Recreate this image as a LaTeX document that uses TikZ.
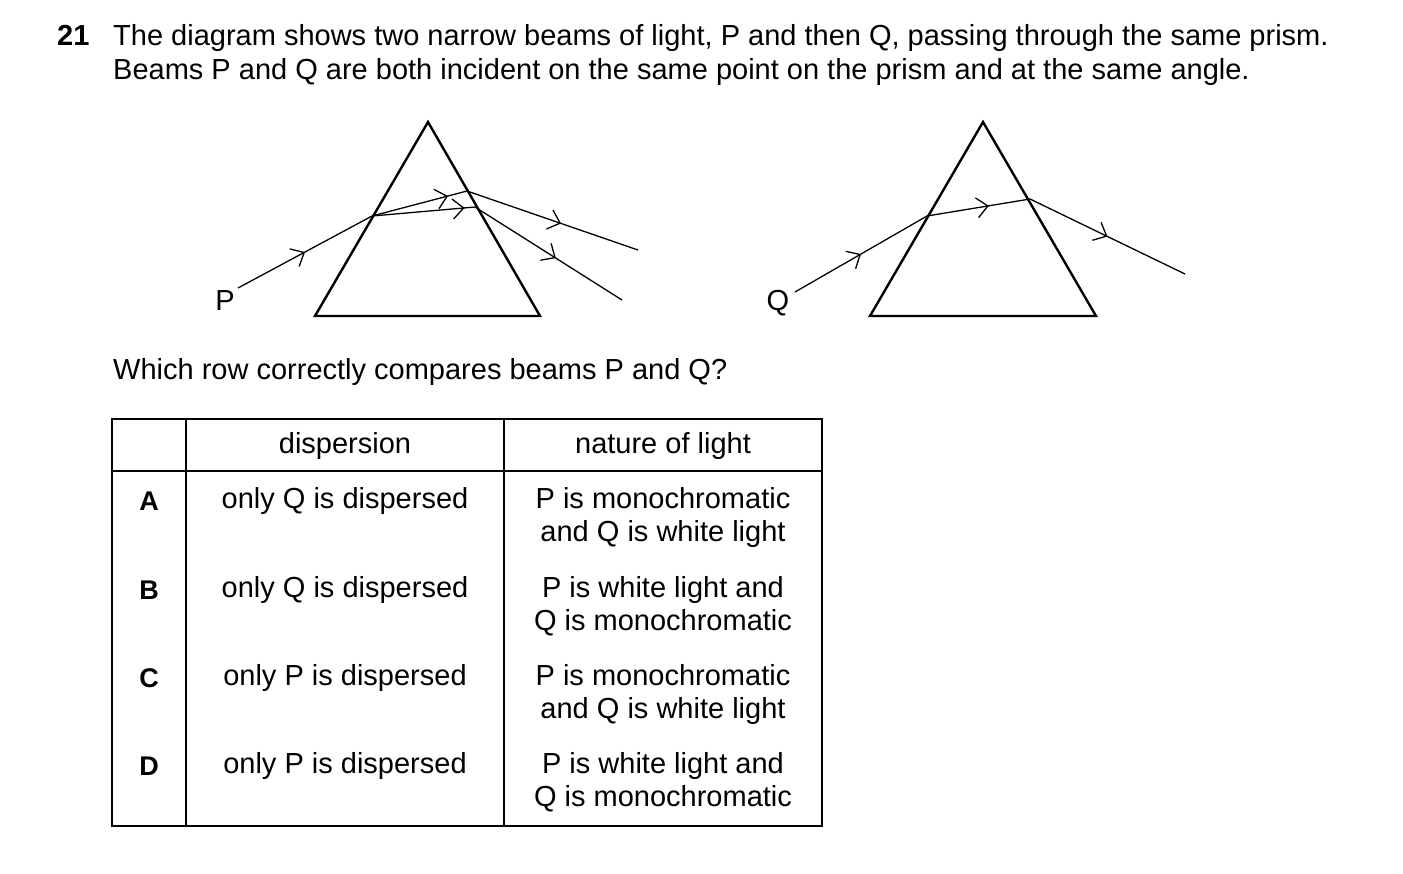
\documentclass[tikz,border=0pt]{standalone}
\usepackage{fontspec}
\setmainfont{Liberation Sans}
\usetikzlibrary{arrows.meta,decorations.markings}
\begin{document}
\begin{tikzpicture}[x=1pt,y=-1pt,
  prism/.style={line width=2.4pt,line join=miter},
  ray/.style={line width=1.3pt,postaction={decorate},decoration={markings,mark=at position #1 with {\arrow{Straight Barb[length=11pt,width=20pt,line width=1.3pt]}}}},
  ray/.default=0.5,
  txt/.style={font=\fontsize{29}{33}\selectfont,inner sep=0pt},
  cell/.style={txt,align=center},
  tl/.style={line width=1.3pt}]
\useasboundingbox (0,0) rectangle (1403,873);
\node[txt,anchor=base west,font=\fontsize{29}{33}\selectfont\bfseries] (n) at (57,45) {21};
\node[txt,anchor=base west] (l1) at (113,45) {The diagram shows two narrow beams of light, P and then Q, passing through the same prism.};
\node[txt,anchor=base west] (l2) at (113,79) {Beams P and Q are both incident on the same point on the prism and at the same angle.};
% prism P
\draw[prism] (428,122) -- (540,316) -- (315,316) -- cycle;
\coordinate (ps) at (238,288); \coordinate (pe) at (372,216);
\coordinate (pu) at (467,191); \coordinate (pl) at (475,207);
\coordinate (pue) at (638,250); \coordinate (ple) at (622,300);
\draw[ray=0.5] (ps) -- (pe);
\draw[ray=0.8] (pe) -- (pu);
\draw[ray=0.9] (pe) -- (pl);
\draw[ray=0.55] (pu) -- (pue);
\draw[ray=0.55] (pl) -- (ple);
\node[txt,anchor=base] (P) at (225,310) {P};
% prism Q
\draw[prism] (983,122) -- (1096,316) -- (870,316) -- cycle;
\coordinate (qs) at (795,292); \coordinate (qe) at (927,216);
\coordinate (qx) at (1030,199); \coordinate (qee) at (1185,274);
\draw[ray=0.5] (qs) -- (qe);
\draw[ray=0.6] (qe) -- (qx);
\draw[ray=0.5] (qx) -- (qee);
\node[txt,anchor=base] (Q) at (778,310) {Q};
\node[txt,anchor=base west] (wr) at (113,379) {Which row correctly compares beams P and Q?};
% table
\draw[tl] (112,419) rectangle (822,826);
\draw[tl] (112,471) -- (822,471);
\draw[tl] (186,419) -- (186,826);
\draw[tl] (504,419) -- (504,826);
\node[cell] (h1) at (345,446) {dispersion};
\node[cell] (h2) at (663,446) {nature of light};
\foreach \y/\L/\d/\n in {517/A/only Q is dispersed/{P is monochromatic\\and Q is white light},
  606/B/only Q is dispersed/{P is white light and\\Q is monochromatic},
  694/C/only P is dispersed/{P is monochromatic\\and Q is white light},
  782/D/only P is dispersed/{P is white light and\\Q is monochromatic}}{
  \node[cell,font=\fontsize{27}{33}\selectfont\bfseries] at (149,\y-16) {\L};
  \node[cell] at (345,\y-16) {\d};
  \node[cell] at (663,\y) {\n};
}
\end{tikzpicture}
\end{document}
